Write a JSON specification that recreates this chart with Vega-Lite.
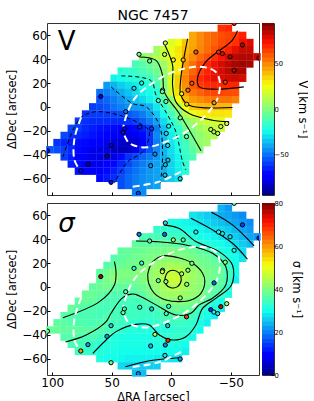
{
"$schema":"https://vega.github.io/schema/vega-lite/v6.json",
"padding":{"left":6,"top":8,"right":0,"bottom":0},
"columns":2,
"spacing":{"row":8,"column":3},
"bounds":"flush",
"resolve":{"scale":{"color":"independent"}},
"config":{"font":"DejaVu Sans","view":{"stroke":"#333","strokeWidth":1},"axis":{"grid":false,"domain":false,"labelFont":"DejaVu Sans","titleFont":"DejaVu Sans","labelFontSize":12,"titleFontSize":11.4,"titleFontWeight":"normal","labelColor":"#000","titleColor":"#000","tickColor":"#000","tickSize":-3,"labelPadding":3,"labelFlush":false}},
"datasets":{
"cells":[
{"x":-42,"y":66,"v":68,"s":24},{"x":-48,"y":66,"v":70,"s":22},
{"x":-18,"y":60,"v":44,"s":28},{"x":-24,"y":60,"v":50,"s":27},{"x":-30,"y":60,"v":55,"s":26},{"x":-36,"y":60,"v":58,"s":25},{"x":-42,"y":60,"v":62,"s":23.5},{"x":-48,"y":60,"v":64,"s":23},{"x":-54,"y":60,"v":66,"s":22},{"x":-60,"y":60,"v":72,"s":21},
{"x":0,"y":54,"v":20,"s":31},{"x":-6,"y":54,"v":26,"s":30.5},{"x":-12,"y":54,"v":38,"s":29.5},{"x":-18,"y":54,"v":44,"s":29},{"x":-24,"y":54,"v":50,"s":28},{"x":-30,"y":54,"v":55,"s":27},{"x":-36,"y":54,"v":58,"s":26},{"x":-42,"y":54,"v":63,"s":25},{"x":-48,"y":54,"v":65,"s":24},{"x":-54,"y":54,"v":68,"s":23},{"x":-60,"y":54,"v":76,"s":22},{"x":-66,"y":54,"v":80,"s":21},
{"x":12,"y":48,"v":8,"s":33},{"x":6,"y":48,"v":16,"s":33},{"x":0,"y":48,"v":24,"s":32.5},{"x":-6,"y":48,"v":32,"s":32},{"x":-12,"y":48,"v":40,"s":31},{"x":-18,"y":48,"v":45,"s":30},{"x":-24,"y":48,"v":51,"s":29.5},{"x":-30,"y":48,"v":56,"s":28.5},{"x":-36,"y":48,"v":61,"s":27.5},{"x":-42,"y":48,"v":66,"s":27},{"x":-48,"y":48,"v":71,"s":26},{"x":-54,"y":48,"v":78,"s":24.5},{"x":-60,"y":48,"v":83,"s":23},{"x":-66,"y":48,"v":83,"s":22},
{"x":24,"y":42,"v":2,"s":35},{"x":18,"y":42,"v":6,"s":35},{"x":12,"y":42,"v":10,"s":35},{"x":6,"y":42,"v":17,"s":35},{"x":0,"y":42,"v":23,"s":34},{"x":-6,"y":42,"v":31,"s":34},{"x":-12,"y":42,"v":43,"s":33},{"x":-18,"y":42,"v":50,"s":31},{"x":-24,"y":42,"v":56,"s":30.5},{"x":-30,"y":42,"v":62,"s":30},{"x":-36,"y":42,"v":68,"s":29},{"x":-42,"y":42,"v":74,"s":28},{"x":-48,"y":42,"v":80,"s":27},{"x":-54,"y":42,"v":85,"s":26},{"x":-60,"y":42,"v":87,"s":24.5},{"x":-66,"y":42,"v":87,"s":23},{"x":-72,"y":42,"v":83,"s":22},
{"x":30,"y":36,"v":-12,"s":37},{"x":24,"y":36,"v":-9,"s":37},{"x":18,"y":36,"v":-5,"s":37},{"x":12,"y":36,"v":-1,"s":37.5},{"x":6,"y":36,"v":7,"s":37.5},{"x":0,"y":36,"v":18,"s":37},{"x":-6,"y":36,"v":30,"s":36.5},{"x":-12,"y":36,"v":47,"s":35},{"x":-18,"y":36,"v":55,"s":34},{"x":-24,"y":36,"v":63,"s":32},{"x":-30,"y":36,"v":70,"s":31.5},{"x":-36,"y":36,"v":76,"s":30.5},{"x":-42,"y":36,"v":81,"s":30},{"x":-48,"y":36,"v":85,"s":29},{"x":-54,"y":36,"v":88,"s":27.5},{"x":-60,"y":36,"v":90,"s":26},{"x":-66,"y":36,"v":88,"s":24.5},
{"x":42,"y":30,"v":-19,"s":37},{"x":36,"y":30,"v":-17,"s":37.5},{"x":30,"y":30,"v":-15,"s":38},{"x":24,"y":30,"v":-12,"s":38.5},{"x":18,"y":30,"v":-8,"s":39},{"x":12,"y":30,"v":-3,"s":39},{"x":6,"y":30,"v":4,"s":39.5},{"x":0,"y":30,"v":17,"s":39.5},{"x":-6,"y":30,"v":30,"s":39.5},{"x":-12,"y":30,"v":49,"s":39},{"x":-18,"y":30,"v":57,"s":38},{"x":-24,"y":30,"v":65,"s":37},{"x":-30,"y":30,"v":71,"s":36},{"x":-36,"y":30,"v":77,"s":34},{"x":-42,"y":30,"v":81,"s":31.5},{"x":-48,"y":30,"v":85,"s":30.5},{"x":-54,"y":30,"v":88,"s":29},{"x":-60,"y":30,"v":88,"s":27.5},
{"x":48,"y":24,"v":-26,"s":36},{"x":42,"y":24,"v":-23,"s":37},{"x":36,"y":24,"v":-21,"s":38},{"x":30,"y":24,"v":-19,"s":38.5},{"x":24,"y":24,"v":-17,"s":39},{"x":18,"y":24,"v":-15,"s":39.5},{"x":12,"y":24,"v":-8,"s":40},{"x":6,"y":24,"v":2,"s":41},{"x":0,"y":24,"v":18,"s":41},{"x":-6,"y":24,"v":37,"s":40.5},{"x":-12,"y":24,"v":51,"s":40},{"x":-18,"y":24,"v":62,"s":39.5},{"x":-24,"y":24,"v":69,"s":38.5},{"x":-30,"y":24,"v":73,"s":38},{"x":-36,"y":24,"v":78,"s":36.5},{"x":-42,"y":24,"v":80,"s":34},{"x":-48,"y":24,"v":82,"s":31.5},{"x":-54,"y":24,"v":83,"s":30},{"x":-60,"y":24,"v":81,"s":28},
{"x":54,"y":18,"v":-42,"s":36},{"x":48,"y":18,"v":-38,"s":37},{"x":42,"y":18,"v":-33,"s":38},{"x":36,"y":18,"v":-30,"s":38.5},{"x":30,"y":18,"v":-27,"s":39},{"x":24,"y":18,"v":-23,"s":39.5},{"x":18,"y":18,"v":-20,"s":40.5},{"x":12,"y":18,"v":-14,"s":42},{"x":6,"y":18,"v":1,"s":43},{"x":0,"y":18,"v":18,"s":43.5},{"x":-6,"y":18,"v":36,"s":43.5},{"x":-12,"y":18,"v":49,"s":42.5},{"x":-18,"y":18,"v":60,"s":41},{"x":-24,"y":18,"v":66,"s":39.5},{"x":-30,"y":18,"v":68,"s":38.5},{"x":-36,"y":18,"v":70,"s":38},{"x":-42,"y":18,"v":70,"s":37},{"x":-48,"y":18,"v":70,"s":34},{"x":-54,"y":18,"v":70,"s":30},
{"x":60,"y":12,"v":-50,"s":37},{"x":54,"y":12,"v":-47,"s":39},{"x":48,"y":12,"v":-44,"s":40},{"x":42,"y":12,"v":-39,"s":40},{"x":36,"y":12,"v":-35,"s":40},{"x":30,"y":12,"v":-30,"s":40.5},{"x":24,"y":12,"v":-26,"s":40.5},{"x":18,"y":12,"v":-23,"s":41.5},{"x":12,"y":12,"v":-19,"s":43},{"x":6,"y":12,"v":-1,"s":45},{"x":0,"y":12,"v":17,"s":46.5},{"x":-6,"y":12,"v":32,"s":46},{"x":-12,"y":12,"v":46,"s":44},{"x":-18,"y":12,"v":54,"s":43},{"x":-24,"y":12,"v":58,"s":41.5},{"x":-30,"y":12,"v":62,"s":39.5},{"x":-36,"y":12,"v":64,"s":38.5},{"x":-42,"y":12,"v":64,"s":37.5},{"x":-48,"y":12,"v":63,"s":34},{"x":-54,"y":12,"v":62,"s":30},
{"x":60,"y":6,"v":-55,"s":37},{"x":54,"y":6,"v":-52,"s":39},{"x":48,"y":6,"v":-48,"s":41},{"x":42,"y":6,"v":-44,"s":39.5},{"x":36,"y":6,"v":-39,"s":39},{"x":30,"y":6,"v":-35,"s":39},{"x":24,"y":6,"v":-31,"s":40},{"x":18,"y":6,"v":-26,"s":41.5},{"x":12,"y":6,"v":-21,"s":43},{"x":6,"y":6,"v":-10,"s":45},{"x":0,"y":6,"v":4,"s":47},{"x":-6,"y":6,"v":27,"s":47},{"x":-12,"y":6,"v":40,"s":44},{"x":-18,"y":6,"v":47,"s":42.5},{"x":-24,"y":6,"v":50,"s":41.5},{"x":-30,"y":6,"v":53,"s":39},{"x":-36,"y":6,"v":55,"s":38},{"x":-42,"y":6,"v":55,"s":37},{"x":-48,"y":6,"v":55,"s":34},{"x":-54,"y":6,"v":52,"s":29},
{"x":66,"y":0,"v":-60,"s":37},{"x":60,"y":0,"v":-58,"s":38},{"x":54,"y":0,"v":-55,"s":39},{"x":48,"y":0,"v":-50,"s":37},{"x":42,"y":0,"v":-47,"s":37},{"x":36,"y":0,"v":-44,"s":37},{"x":30,"y":0,"v":-42,"s":37.5},{"x":24,"y":0,"v":-41,"s":38.5},{"x":18,"y":0,"v":-37,"s":40},{"x":12,"y":0,"v":-28,"s":42},{"x":6,"y":0,"v":-18,"s":44},{"x":0,"y":0,"v":-6,"s":45},{"x":-6,"y":0,"v":9,"s":45},{"x":-12,"y":0,"v":26,"s":43.5},{"x":-18,"y":0,"v":37,"s":42},{"x":-24,"y":0,"v":40,"s":41},{"x":-30,"y":0,"v":41,"s":38},{"x":-36,"y":0,"v":41,"s":37},{"x":-42,"y":0,"v":41,"s":36},{"x":-48,"y":0,"v":40,"s":32},
{"x":72,"y":-6,"v":-62,"s":38},{"x":66,"y":-6,"v":-60,"s":38},{"x":60,"y":-6,"v":-60,"s":37},{"x":54,"y":-6,"v":-60,"s":36.5},{"x":48,"y":-6,"v":-59,"s":35.5},{"x":42,"y":-6,"v":-57,"s":35.5},{"x":36,"y":-6,"v":-55,"s":36},{"x":30,"y":-6,"v":-52,"s":36},{"x":24,"y":-6,"v":-48,"s":37},{"x":18,"y":-6,"v":-42,"s":39},{"x":12,"y":-6,"v":-34,"s":41.5},{"x":6,"y":-6,"v":-24,"s":42.5},{"x":0,"y":-6,"v":-14,"s":43},{"x":-6,"y":-6,"v":-2,"s":43},{"x":-12,"y":-6,"v":13,"s":42.5},{"x":-18,"y":-6,"v":24,"s":42},{"x":-24,"y":-6,"v":29,"s":41},{"x":-30,"y":-6,"v":31,"s":38},{"x":-36,"y":-6,"v":32,"s":36.5},{"x":-42,"y":-6,"v":32,"s":34.5},{"x":-48,"y":-6,"v":31,"s":31},
{"x":78,"y":-12,"v":-60,"s":37},{"x":72,"y":-12,"v":-62,"s":37.5},{"x":66,"y":-12,"v":-63,"s":37},{"x":60,"y":-12,"v":-63,"s":36},{"x":54,"y":-12,"v":-63,"s":35},{"x":48,"y":-12,"v":-63,"s":35},{"x":42,"y":-12,"v":-63,"s":34.5},{"x":36,"y":-12,"v":-62,"s":34.5},{"x":30,"y":-12,"v":-59,"s":34.5},{"x":24,"y":-12,"v":-54,"s":35},{"x":18,"y":-12,"v":-48,"s":36},{"x":12,"y":-12,"v":-41,"s":38},{"x":6,"y":-12,"v":-30,"s":40},{"x":0,"y":-12,"v":-20,"s":41},{"x":-6,"y":-12,"v":-10,"s":41},{"x":-12,"y":-12,"v":1,"s":40.5},{"x":-18,"y":-12,"v":8,"s":39.5},{"x":-24,"y":-12,"v":13,"s":38},{"x":-30,"y":-12,"v":17,"s":36},{"x":-36,"y":-12,"v":20,"s":32},{"x":-42,"y":-12,"v":22,"s":30},
{"x":84,"y":-18,"v":-58,"s":37.5},{"x":78,"y":-18,"v":-60,"s":36.5},{"x":72,"y":-18,"v":-64,"s":36},{"x":66,"y":-18,"v":-66,"s":35.5},{"x":60,"y":-18,"v":-68,"s":35},{"x":54,"y":-18,"v":-69,"s":34.5},{"x":48,"y":-18,"v":-70,"s":35},{"x":42,"y":-18,"v":-72,"s":34},{"x":36,"y":-18,"v":-72,"s":34},{"x":30,"y":-18,"v":-70,"s":34},{"x":24,"y":-18,"v":-66,"s":34},{"x":18,"y":-18,"v":-60,"s":34.5},{"x":12,"y":-18,"v":-48,"s":35},{"x":6,"y":-18,"v":-35,"s":36.5},{"x":0,"y":-18,"v":-24,"s":38},{"x":-6,"y":-18,"v":-17,"s":38.5},{"x":-12,"y":-18,"v":-4,"s":38},{"x":-18,"y":-18,"v":2,"s":37},{"x":-24,"y":-18,"v":7,"s":34},{"x":-30,"y":-18,"v":11,"s":32},{"x":-36,"y":-18,"v":14,"s":30.5},{"x":-42,"y":-18,"v":16,"s":29},
{"x":90,"y":-24,"v":-58,"s":36.5},{"x":84,"y":-24,"v":-62,"s":36},{"x":78,"y":-24,"v":-64,"s":35.5},{"x":72,"y":-24,"v":-66,"s":35},{"x":66,"y":-24,"v":-68,"s":35},{"x":60,"y":-24,"v":-70,"s":34.5},{"x":54,"y":-24,"v":-72,"s":35.5},{"x":48,"y":-24,"v":-74,"s":34.5},{"x":42,"y":-24,"v":-76,"s":34},{"x":36,"y":-24,"v":-78,"s":34},{"x":30,"y":-24,"v":-76,"s":34},{"x":24,"y":-24,"v":-70,"s":33.5},{"x":18,"y":-24,"v":-61,"s":33.5},{"x":12,"y":-24,"v":-46,"s":34},{"x":6,"y":-24,"v":-36,"s":35},{"x":0,"y":-24,"v":-27,"s":35.5},{"x":-6,"y":-24,"v":-18,"s":36},{"x":-12,"y":-24,"v":-10,"s":35.5},{"x":-18,"y":-24,"v":-2,"s":34.5},{"x":-24,"y":-24,"v":4,"s":32},{"x":-30,"y":-24,"v":8,"s":30.5},{"x":-36,"y":-24,"v":11,"s":29},
{"x":96,"y":-30,"v":-62,"s":37},{"x":90,"y":-30,"v":-65,"s":36.5},{"x":84,"y":-30,"v":-67,"s":36},{"x":78,"y":-30,"v":-69,"s":35.5},{"x":72,"y":-30,"v":-70,"s":35.5},{"x":66,"y":-30,"v":-72,"s":35},{"x":60,"y":-30,"v":-74,"s":36},{"x":54,"y":-30,"v":-77,"s":35.5},{"x":48,"y":-30,"v":-80,"s":34.5},{"x":42,"y":-30,"v":-82,"s":34},{"x":36,"y":-30,"v":-84,"s":33},{"x":30,"y":-30,"v":-82,"s":32.5},{"x":24,"y":-30,"v":-74,"s":32},{"x":18,"y":-30,"v":-62,"s":32.5},{"x":12,"y":-30,"v":-48,"s":33},{"x":6,"y":-30,"v":-36,"s":33.5},{"x":0,"y":-30,"v":-28,"s":34},{"x":-6,"y":-30,"v":-20,"s":34},{"x":-12,"y":-30,"v":-13,"s":33.5},{"x":-18,"y":-30,"v":-4,"s":32.5},{"x":-24,"y":-30,"v":4,"s":30.5},{"x":-30,"y":-30,"v":7,"s":29},
{"x":102,"y":-36,"v":-55,"s":38},{"x":96,"y":-36,"v":-57,"s":37.5},{"x":90,"y":-36,"v":-60,"s":37},{"x":84,"y":-36,"v":-64,"s":37},{"x":78,"y":-36,"v":-70,"s":37},{"x":72,"y":-36,"v":-74,"s":36.5},{"x":66,"y":-36,"v":-77,"s":36},{"x":60,"y":-36,"v":-78,"s":35.5},{"x":54,"y":-36,"v":-80,"s":35},{"x":48,"y":-36,"v":-84,"s":34},{"x":42,"y":-36,"v":-86,"s":32.5},{"x":36,"y":-36,"v":-84,"s":31.5},{"x":30,"y":-36,"v":-78,"s":31.5},{"x":24,"y":-36,"v":-64,"s":31},{"x":18,"y":-36,"v":-56,"s":31},{"x":12,"y":-36,"v":-46,"s":31},{"x":6,"y":-36,"v":-38,"s":31.5},{"x":0,"y":-36,"v":-30,"s":32},{"x":-6,"y":-36,"v":-22,"s":32.5},{"x":-12,"y":-36,"v":-15,"s":32.5},{"x":-18,"y":-36,"v":-8,"s":32},{"x":-24,"y":-36,"v":0,"s":30},
{"x":90,"y":-42,"v":-60,"s":36},{"x":84,"y":-42,"v":-66,"s":36},{"x":78,"y":-42,"v":-72,"s":36},{"x":72,"y":-42,"v":-76,"s":35},{"x":66,"y":-42,"v":-78,"s":35},{"x":60,"y":-42,"v":-78,"s":34},{"x":54,"y":-42,"v":-80,"s":33},{"x":48,"y":-42,"v":-78,"s":31.5},{"x":42,"y":-42,"v":-70,"s":31},{"x":36,"y":-42,"v":-62,"s":30.5},{"x":30,"y":-42,"v":-58,"s":30.5},{"x":24,"y":-42,"v":-52,"s":30.5},{"x":18,"y":-42,"v":-48,"s":30.5},{"x":12,"y":-42,"v":-43,"s":31.5},{"x":6,"y":-42,"v":-38,"s":32.5},{"x":0,"y":-42,"v":-31,"s":33},{"x":-6,"y":-42,"v":-25,"s":33},{"x":-12,"y":-42,"v":-17,"s":32},{"x":-18,"y":-42,"v":-11,"s":30},
{"x":84,"y":-48,"v":-66,"s":35},{"x":78,"y":-48,"v":-70,"s":35},{"x":72,"y":-48,"v":-75,"s":34.5},{"x":66,"y":-48,"v":-77,"s":33.5},{"x":60,"y":-48,"v":-76,"s":32},{"x":54,"y":-48,"v":-74,"s":31.5},{"x":48,"y":-48,"v":-70,"s":31},{"x":42,"y":-48,"v":-64,"s":30.5},{"x":36,"y":-48,"v":-58,"s":30.5},{"x":30,"y":-48,"v":-52,"s":30.5},{"x":24,"y":-48,"v":-48,"s":30.5},{"x":18,"y":-48,"v":-44,"s":30.5},{"x":12,"y":-48,"v":-41,"s":31},{"x":6,"y":-48,"v":-38,"s":31},{"x":0,"y":-48,"v":-32,"s":31},{"x":-6,"y":-48,"v":-26,"s":31},{"x":-12,"y":-48,"v":-18,"s":30},
{"x":78,"y":-54,"v":-68,"s":34},{"x":72,"y":-54,"v":-72,"s":33},{"x":66,"y":-54,"v":-74,"s":32.5},{"x":60,"y":-54,"v":-73,"s":31.5},{"x":54,"y":-54,"v":-70,"s":31},{"x":48,"y":-54,"v":-66,"s":30.5},{"x":42,"y":-54,"v":-60,"s":30},{"x":36,"y":-54,"v":-54,"s":30},{"x":30,"y":-54,"v":-50,"s":30},{"x":24,"y":-54,"v":-46,"s":30},{"x":18,"y":-54,"v":-43,"s":30},{"x":12,"y":-54,"v":-41,"s":30},{"x":6,"y":-54,"v":-38,"s":30},{"x":0,"y":-54,"v":-32,"s":30},{"x":-6,"y":-54,"v":-27,"s":30},{"x":-12,"y":-54,"v":-20,"s":29},
{"x":60,"y":-60,"v":-70,"s":31},{"x":54,"y":-60,"v":-67,"s":30},{"x":48,"y":-60,"v":-63,"s":30},{"x":42,"y":-60,"v":-57,"s":29.5},{"x":36,"y":-60,"v":-52,"s":29},{"x":30,"y":-60,"v":-48,"s":29},{"x":24,"y":-60,"v":-45,"s":29},{"x":18,"y":-60,"v":-43,"s":29},{"x":12,"y":-60,"v":-41,"s":28.5},{"x":6,"y":-60,"v":-37,"s":28.5},{"x":0,"y":-60,"v":-33,"s":28},{"x":-6,"y":-60,"v":-29,"s":28},
{"x":42,"y":-66,"v":-57,"s":27},{"x":36,"y":-66,"v":-52,"s":26.5},{"x":30,"y":-66,"v":-48,"s":26.5},{"x":24,"y":-66,"v":-45,"s":26},{"x":18,"y":-66,"v":-43,"s":26},{"x":12,"y":-66,"v":-41,"s":26},
{"x":30,"y":-72,"v":-47,"s":25},{"x":24,"y":-72,"v":-45,"s":25}
],
"pts":[
{"x":27.1,"y":44.1,"v":0,"s":20},{"x":18.2,"y":38.5,"v":-5,"s":35},{"x":5.6,"y":44,"v":10,"s":18},{"x":5,"y":53.6,"v":20,"s":28},{"x":-1.7,"y":39.4,"v":25,"s":42},{"x":-10,"y":39.4,"v":42,"s":36},{"x":-20.7,"y":46,"v":61,"s":30},{"x":-39.7,"y":46,"v":71,"s":30},{"x":-43,"y":44.7,"v":80,"s":28},{"x":-49.4,"y":42,"v":87,"s":28},{"x":-52.8,"y":70,"v":76,"s":35},{"x":-59.8,"y":52,"v":87,"s":15},{"x":-52.8,"y":30.7,"v":85,"s":30},{"x":-73.7,"y":41,"v":90,"s":10},{"x":-45.3,"y":20.7,"v":66,"s":42},{"x":-17.3,"y":19.8,"v":61,"s":40},{"x":-14,"y":14,"v":55,"s":42},{"x":-8.7,"y":11,"v":30,"s":42},{"x":-13,"y":2.2,"v":36,"s":42},{"x":-36,"y":3.4,"v":49,"s":18},{"x":31.3,"y":15.6,"v":-30,"s":30},{"x":24.9,"y":20,"v":-25,"s":32},{"x":7.3,"y":14,"v":-5,"s":36},{"x":7.5,"y":12.8,"v":-8,"s":45},{"x":10.9,"y":5.3,"v":-15,"s":36},{"x":4.5,"y":4.5,"v":-8,"s":40},{"x":59.2,"y":8.7,"v":-75,"s":78},{"x":38.3,"y":-4,"v":-50,"s":35},{"x":-7.5,"y":-9.2,"v":-5,"s":42},{"x":39.4,"y":-18.4,"v":-75,"s":34},{"x":40.5,"y":-21.5,"v":-70,"s":38},{"x":26.5,"y":-17,"v":-65,"s":32},{"x":16.5,"y":-18.4,"v":-60,"s":26},{"x":2.2,"y":-16.2,"v":-25,"s":32},{"x":4.2,"y":-22.3,"v":-30,"s":34},{"x":3,"y":-32.4,"v":-30,"s":26},{"x":-12.8,"y":-25,"v":-5,"s":68},{"x":-33.2,"y":-19,"v":12,"s":14},{"x":-35.8,"y":-21,"v":12,"s":30},{"x":-39,"y":-22.3,"v":12,"s":28},{"x":-41.6,"y":-16.5,"v":18,"s":75},{"x":-46.6,"y":-14,"v":20,"s":45},{"x":50.6,"y":-32.4,"v":-80,"s":26},{"x":54,"y":-41.3,"v":-85,"s":22},{"x":70,"y":-48.3,"v":-80,"s":22},{"x":76,"y":-53.6,"v":-70,"s":60},{"x":104,"y":-37,"v":-70,"s":38},{"x":13.7,"y":-39.7,"v":-45,"s":45},{"x":2.8,"y":-44.7,"v":-35,"s":70},{"x":5,"y":-48.6,"v":-38,"s":20},{"x":17.3,"y":-49.4,"v":-45,"s":24},{"x":5.3,"y":-57.3,"v":-35,"s":28},{"x":-7.5,"y":-60.3,"v":-30,"s":22},{"x":50.6,"y":-63.4,"v":-70,"s":38},{"x":27.7,"y":-72.6,"v":-60,"s":20}
],
"vsolid":[
{"c":"0","i":0,"x":26.8,"y":41.9},{"c":"0","i":1,"x":12.8,"y":39},{"c":"0","i":2,"x":7.3,"y":26.5},{"c":"0","i":3,"x":5.9,"y":12.6},{"c":"0","i":4,"x":-6.7,"y":-5.6},{"c":"0","i":5,"x":-25,"y":-36.9},
{"c":"20","i":0,"x":5.3,"y":51.7},{"c":"20","i":1,"x":-1.1,"y":35},{"c":"20","i":2,"x":-1.1,"y":18},{"c":"20","i":3,"x":-3.9,"y":4.2},{"c":"20","i":4,"x":-15,"y":-5.6},{"c":"20","i":5,"x":-34.6,"y":-11.2},{"c":"20","i":6,"x":-48.6,"y":-12.6},
{"c":"40","i":0,"x":-13.7,"y":57},{"c":"40","i":1,"x":-8,"y":23.7},{"c":"40","i":2,"x":-8,"y":10},{"c":"40","i":3,"x":-15,"y":1.4},{"c":"40","i":4,"x":-51.4,"y":-0.6},
{"c":"60","i":0,"x":-55.6,"y":64},{"c":"60","i":1,"x":-51.4,"y":56},{"c":"60","i":2,"x":-29,"y":37.7},{"c":"60","i":3,"x":-22,"y":23.7},{"c":"60","i":4,"x":-23.5,"y":16.8},{"c":"60","i":5,"x":-37.4,"y":14.8},{"c":"60","i":6,"x":-61,"y":16.8}
],
"vdash":[
{"c":"m20","i":0,"x":42,"y":26},{"c":"m20","i":1,"x":17,"y":22},{"c":"m20","i":2,"x":12.8,"y":9.8},{"c":"m20","i":3,"x":3,"y":-7},{"c":"m20","i":4,"x":-3.9,"y":-21},{"c":"m20","i":5,"x":-9.5,"y":-46},{"c":"m20","i":6,"x":-12.3,"y":-53},
{"c":"m40","i":0,"x":50.6,"y":16.8},{"c":"m40","i":1,"x":32.4,"y":2.8},{"c":"m40","i":2,"x":21.2,"y":0},{"c":"m40","i":3,"x":10,"y":-15.4},{"c":"m40","i":4,"x":7.3,"y":-40.5},{"c":"m40","i":5,"x":9.2,"y":-64},
{"c":"m60","i":0,"x":91,"y":-42},{"c":"m60","i":1,"x":77,"y":-10},{"c":"m60","i":2,"x":64.5,"y":-4.2},{"c":"m60","i":3,"x":43.6,"y":-7},{"c":"m60","i":4,"x":24,"y":-15.4},{"c":"m60","i":5,"x":18.4,"y":-21},{"c":"m60","i":6,"x":24,"y":-37.7},{"c":"m60","i":7,"x":36.6,"y":-46},{"c":"m60","i":8,"x":47.8,"y":-64}
],
"white":[
{"c":"in","i":0,"x":36.6,"y":-29.3},{"c":"in","i":1,"x":40.2,"y":-21},{"c":"in","i":2,"x":38.5,"y":-9.8},{"c":"in","i":3,"x":29.6,"y":8.4},{"c":"in","i":4,"x":7.3,"y":25.1},{"c":"in","i":5,"x":-10.9,"y":32.1},{"c":"in","i":6,"x":-26.3,"y":33.5},{"c":"in","i":7,"x":-37.4,"y":29.3},{"c":"in","i":8,"x":-40.8,"y":20.9},{"c":"in","i":9,"x":-38.8,"y":7},{"c":"in","i":10,"x":-29,"y":-7},{"c":"in","i":11,"x":-12.3,"y":-21},{"c":"in","i":12,"x":4.5,"y":-29.3},{"c":"in","i":13,"x":21.2,"y":-34},{"c":"in","i":14,"x":32.4,"y":-32},{"c":"in","i":15,"x":36.6,"y":-29.3},
{"c":"ol","i":0,"x":75.7,"y":-8.9},{"c":"ol","i":1,"x":81.3,"y":-26.5},{"c":"ol","i":2,"x":81.3,"y":-44.7},{"c":"ol","i":3,"x":75.7,"y":-54.5},
{"c":"ob","i":0,"x":32.4,"y":-67},{"c":"ob","i":1,"x":10,"y":-62.8},{"c":"ob","i":2,"x":-10.9,"y":-53}
],
"ssolid":[
{"c":"A","i":0,"x":5.3,"y":7.3},{"c":"A","i":1,"x":3.1,"y":12.3},{"c":"A","i":2,"x":-1.7,"y":14},{"c":"A","i":3,"x":-6.7,"y":11.5},{"c":"A","i":4,"x":-8.4,"y":5.9},{"c":"A","i":5,"x":-5.3,"y":0.3},{"c":"A","i":6,"x":0.3,"y":-0.6},{"c":"A","i":7,"x":4.5,"y":2.2},{"c":"A","i":8,"x":5.3,"y":7.3},
{"c":"B","i":0,"x":19.8,"y":10.6},{"c":"B","i":1,"x":16.2,"y":20.4},{"c":"B","i":2,"x":7.3,"y":26},{"c":"B","i":3,"x":-5.3,"y":24.6},{"c":"B","i":4,"x":-17.9,"y":19.8},{"c":"B","i":5,"x":-26.3,"y":11.5},{"c":"B","i":6,"x":-28.2,"y":4.5},{"c":"B","i":7,"x":-24.9,"y":-5.3},{"c":"B","i":8,"x":-16.5,"y":-10.9},{"c":"B","i":9,"x":-6.7,"y":-12.3},{"c":"B","i":10,"x":4.5,"y":-10.9},{"c":"B","i":11,"x":14.2,"y":-5.3},{"c":"B","i":12,"x":19,"y":3.1},{"c":"B","i":13,"x":19.8,"y":10.6},
{"c":"C","i":0,"x":29.6,"y":38.5},{"c":"C","i":1,"x":12.8,"y":38},{"c":"C","i":2,"x":-12.3,"y":35.2},{"c":"C","i":3,"x":-34.6,"y":28.2},{"c":"C","i":4,"x":-45.8,"y":17},{"c":"C","i":5,"x":-45.8,"y":1.7},{"c":"C","i":6,"x":-34.6,"y":-9.5},{"c":"C","i":7,"x":-23.5,"y":-15},{"c":"C","i":8,"x":-16.5,"y":-22},{"c":"C","i":9,"x":-3.9,"y":-23.5},{"c":"C","i":10,"x":12.8,"y":-15},{"c":"C","i":11,"x":26.8,"y":-7.5},{"c":"C","i":12,"x":32.4,"y":-5.9},{"c":"C","i":13,"x":40.8,"y":-8.9},{"c":"C","i":14,"x":50.6,"y":-22},{"c":"C","i":15,"x":54.7,"y":-29},{"c":"C","i":16,"x":71.5,"y":-40.2},{"c":"C","i":17,"x":88.8,"y":-46},
{"c":"D","i":0,"x":6.4,"y":52},{"c":"D","i":1,"x":-6.7,"y":49},{"c":"D","i":2,"x":-20.7,"y":38},{"c":"D","i":3,"x":-40.2,"y":29.6},{"c":"D","i":4,"x":-51.4,"y":18.4},{"c":"D","i":5,"x":-50.6,"y":1.7},{"c":"D","i":6,"x":-37.4,"y":-9.5},{"c":"D","i":7,"x":-26.3,"y":-17.9},{"c":"D","i":8,"x":-20.7,"y":-31.8},{"c":"D","i":9,"x":-12.3,"y":-41.6},{"c":"D","i":10,"x":-1.1,"y":-44.4},{"c":"D","i":11,"x":10,"y":-40.2},{"c":"D","i":12,"x":18.4,"y":-31.8},{"c":"D","i":13,"x":29.6,"y":-31.3},{"c":"D","i":14,"x":46.4,"y":-37.4},{"c":"D","i":15,"x":54.7,"y":-44.4},{"c":"D","i":16,"x":65.9,"y":-55.6},
{"c":"E","i":0,"x":-16.5,"y":57.5},{"c":"E","i":1,"x":-34.6,"y":47.8},{"c":"E","i":2,"x":-51.4,"y":36.6},{"c":"E","i":3,"x":-64,"y":23.2},
{"c":"F","i":0,"x":-33.8,"y":62.6},{"c":"F","i":1,"x":-51.4,"y":52},{"c":"F","i":2,"x":-69.6,"y":34.4},
{"c":"G","i":0,"x":91,"y":-25.7},{"c":"G","i":1,"x":60.3,"y":-12.3},{"c":"G","i":2,"x":47.8,"y":1.7},{"c":"G","i":3,"x":46.4,"y":12.8},{"c":"G","i":4,"x":47.8,"y":21.2},
{"c":"H","i":0,"x":38.5,"y":-66.8},{"c":"H","i":1,"x":18.4,"y":-61.7},{"c":"H","i":2,"x":-6.7,"y":-59.2}
],
"vbar":[{"c":-95},{"c":-90},{"c":-85},{"c":-80},{"c":-75},{"c":-70},{"c":-65},{"c":-60},{"c":-55},{"c":-50},{"c":-45},{"c":-40},{"c":-35},{"c":-30},{"c":-25},{"c":-20},{"c":-15},{"c":-10},{"c":-5},{"c":0},{"c":5},{"c":10},{"c":15},{"c":20},{"c":25},{"c":30},{"c":35},{"c":40},{"c":45},{"c":50},{"c":55},{"c":60},{"c":65},{"c":70},{"c":75},{"c":80},{"c":85},{"c":90},{"c":95}],
"sbar":[{"c":0},{"c":2},{"c":4},{"c":6},{"c":8},{"c":10},{"c":12},{"c":14},{"c":16},{"c":18},{"c":20},{"c":22},{"c":24},{"c":26},{"c":28},{"c":30},{"c":32},{"c":34},{"c":36},{"c":38},{"c":40},{"c":42},{"c":44},{"c":46},{"c":48},{"c":50},{"c":52},{"c":54},{"c":56},{"c":58},{"c":60},{"c":62},{"c":64},{"c":66},{"c":68},{"c":70},{"c":72},{"c":74},{"c":76},{"c":78},{"c":80}]
},
"concat":[
{"width":212,"height":172,"title":{"text":"NGC 7457","fontSize":14,"font":"DejaVu Sans","fontWeight":"normal","offset":0,"anchor":"middle","color":"#000"},
"encoding":{"x":{"field":"x","type":"quantitative","scale":{"domain":[104.4,-73.7],"nice":false,"zero":false},"axis":{"values":[100,50,0,-50],"labels":false,"title":null}},"y":{"field":"y","type":"quantitative","scale":{"domain":[-74,70.4],"nice":false,"zero":false},"axis":{"values":[60,40,20,0,-20,-40,-60],"title":"ΔDec [arcsec]"}}},
"layer":[
{"data":{"name":"cells"},"mark":{"type":"rect","width":7.4,"height":7.4},"encoding":{"color":{"field":"v","type":"quantitative","legend":null,"scale":{"domain":[-95,-74.1,-71.25,-23.75,26.6,74.1,95],"range":["#00007f","#0000ff","#0000ff","#14ffeb","#f7ff08","#ff1200","#7f0000"],"interpolate":"rgb"}}}},
{"data":{"name":"vsolid"},"mark":{"type":"line","color":"#000","strokeWidth":1.1,"interpolate":"catmull-rom"},"encoding":{"detail":{"field":"c"},"order":{"field":"i","type":"quantitative"}}},
{"data":{"name":"vdash"},"mark":{"type":"line","color":"#000","strokeWidth":1,"strokeDash":[4,3],"interpolate":"catmull-rom"},"encoding":{"detail":{"field":"c"},"order":{"field":"i","type":"quantitative"}}},
{"data":{"name":"white"},"mark":{"type":"line","color":"#fff","strokeWidth":2,"strokeDash":[7,4],"interpolate":"catmull-rom"},"encoding":{"detail":{"field":"c"},"order":{"field":"i","type":"quantitative"}}},
{"data":{"name":"pts"},"mark":{"type":"circle","size":18,"opacity":1,"stroke":"#000","strokeWidth":1,"clip":true},"encoding":{"color":{"field":"v","type":"quantitative","legend":null,"scale":{"domain":[-95,-74.1,-71.25,-23.75,26.6,74.1,95],"range":["#00007f","#0000ff","#0000ff","#14ffeb","#f7ff08","#ff1200","#7f0000"],"interpolate":"rgb"}}}},
{"data":{"values":[{"x":88,"y":54.5,"t":"V"}]},"mark":{"type":"text","fontSize":26,"font":"DejaVu Sans","color":"#000"},"encoding":{"text":{"field":"t"}}}
]},
{"width":12,"height":172,"data":{"name":"vbar"},"mark":{"type":"rect","height":5.5,"clip":true},"encoding":{"y":{"field":"c","type":"quantitative","scale":{"domain":[-95,95],"nice":false,"zero":false},"axis":{"orient":"right","values":[-50,0,50],"labelFontSize":6.8,"labelPadding":3,"title":"V [km s⁻¹]","titleAngle":90,"titlePadding":8,"titleFontSize":11.4}},"color":{"field":"c","type":"quantitative","legend":null,"scale":{"domain":[-95,-74.1,-71.25,-23.75,26.6,74.1,95],"range":["#00007f","#0000ff","#0000ff","#14ffeb","#f7ff08","#ff1200","#7f0000"],"interpolate":"rgb"}}}},
{"width":212,"height":172,
"encoding":{"x":{"field":"x","type":"quantitative","scale":{"domain":[104.4,-73.7],"nice":false,"zero":false},"axis":{"values":[100,50,0,-50],"title":"ΔRA [arcsec]","labelPadding":5,"titlePadding":3}},"y":{"field":"y","type":"quantitative","scale":{"domain":[-73.7,70.3],"nice":false,"zero":false},"axis":{"values":[60,40,20,0,-20,-40,-60],"title":"ΔDec [arcsec]"}}},
"layer":[
{"data":{"name":"cells"},"mark":{"type":"rect","width":7.4,"height":7.4},"encoding":{"color":{"field":"s","type":"quantitative","legend":null,"scale":{"domain":[0,8.8,10,30,51.2,71.2,80],"range":["#00007f","#0000ff","#0000ff","#14ffeb","#f7ff08","#ff1200","#7f0000"],"interpolate":"rgb"}}}},
{"data":{"name":"ssolid"},"mark":{"type":"line","color":"#000","strokeWidth":1.1,"interpolate":"catmull-rom"},"encoding":{"detail":{"field":"c"},"order":{"field":"i","type":"quantitative"}}},
{"data":{"name":"white"},"mark":{"type":"line","color":"#fff","strokeWidth":2,"strokeDash":[7,4],"interpolate":"catmull-rom"},"encoding":{"detail":{"field":"c"},"order":{"field":"i","type":"quantitative"}}},
{"data":{"name":"pts"},"mark":{"type":"circle","size":18,"opacity":1,"stroke":"#000","strokeWidth":1,"clip":true},"encoding":{"color":{"field":"s","type":"quantitative","legend":null,"scale":{"domain":[0,8.8,10,30,51.2,71.2,80],"range":["#00007f","#0000ff","#0000ff","#14ffeb","#f7ff08","#ff1200","#7f0000"],"interpolate":"rgb"}}}},
{"data":{"values":[{"x":88,"y":53,"t":"σ"}]},"mark":{"type":"text","fontSize":26,"font":"DejaVu Sans","fontStyle":"italic","color":"#000"},"encoding":{"text":{"field":"t"}}}
]},
{"width":12,"height":172,"data":{"name":"sbar"},"mark":{"type":"rect","height":5,"clip":true},"encoding":{"y":{"field":"c","type":"quantitative","scale":{"domain":[0,80],"nice":false,"zero":false},"axis":{"orient":"right","values":[0,20,40,60,80],"labelFontSize":6.8,"labelPadding":3,"title":"σ [km s⁻¹]","titleAngle":90,"titlePadding":8,"titleFontSize":11.4}},"color":{"field":"c","type":"quantitative","legend":null,"scale":{"domain":[0,8.8,10,30,51.2,71.2,80],"range":["#00007f","#0000ff","#0000ff","#14ffeb","#f7ff08","#ff1200","#7f0000"],"interpolate":"rgb"}}}}
]
}
